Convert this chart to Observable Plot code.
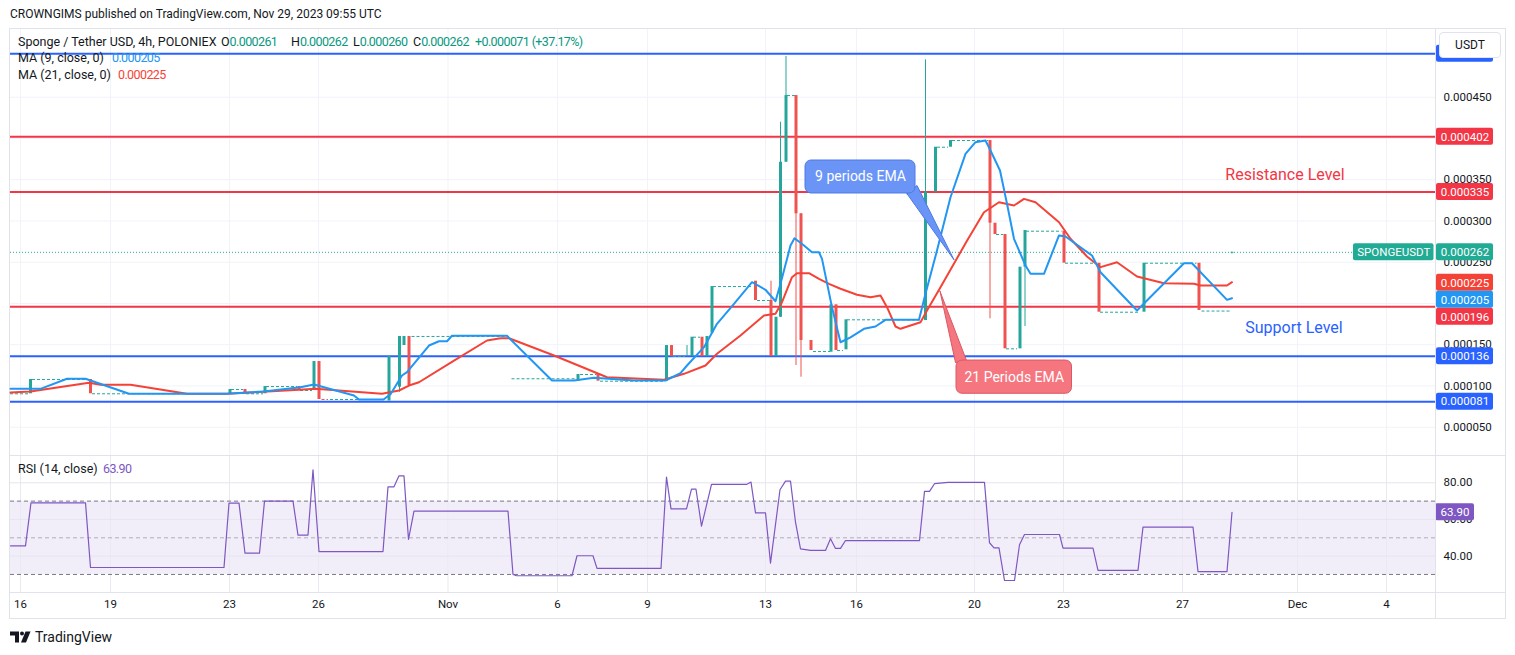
<!DOCTYPE html>
<html>
<head>
<meta charset="utf-8">
<script src="https://cdn.jsdelivr.net/npm/d3@7"></script>
<script src="https://cdn.jsdelivr.net/npm/@observablehq/plot@0.6"></script>
<style>
  html, body { margin: 0; padding: 0; background: #ffffff; }
  body { width: 1515px; height: 655px; position: relative; overflow: hidden;
         font-family: Roboto, "Liberation Sans", Arial, sans-serif; color: #131722; }
  .abs { position: absolute; white-space: nowrap; }
  .leg { font-size: 12.5px; line-height: 16px; }
  .g { color: #089981; }
  .n { letter-spacing: -0.6px; }
</style>
</head>
<body>
<div class="abs" style="left:10px;top:6px;font-size:12px;line-height:16px;">CROWNGIMS published on TradingView.com, Nov 29, 2023 09:55 UTC</div>
<div class="abs" style="left:9px;top:28px;width:1495px;height:589px;border:1px solid #e0e3eb;"></div>
<div id="main" class="abs" style="left:10px;top:29px;"></div>
<div id="rsi" class="abs" style="left:10px;top:456px;"></div>
<div class="abs" style="left:10px;top:455px;width:1495px;height:1px;background:#e0e3eb;"></div>
<div class="abs" style="left:10px;top:592px;width:1495px;height:1px;background:#e0e3eb;"></div>
<div class="abs" style="left:1435px;top:29px;width:1px;height:589px;background:#e0e3eb;"></div>

<div class="abs leg" style="left:18px;top:34px;">Sponge / Tether USD, 4h, POLONIEX</div>
<div class="abs leg" style="left:221px;top:34px;">O<span class="g n">0.000261</span></div>
<div class="abs leg" style="left:291px;top:34px;">H<span class="g n">0.000262</span></div>
<div class="abs leg" style="left:353px;top:34px;">L<span class="g n">0.000260</span></div>
<div class="abs leg" style="left:413px;top:34px;">C<span class="g n">0.000262</span></div>
<div class="abs leg g n" style="left:475px;top:34px;">+0.000071 (+37.17%)</div>
<div class="abs leg" style="left:18px;top:50px;">MA (9, close, 0)</div>
<div class="abs leg n" style="left:112px;top:50px;color:#2196f3">0.000205</div>
<div class="abs leg" style="left:18px;top:67px;">MA (21, close, 0)</div>
<div class="abs leg n" style="left:118px;top:67px;color:#f44336">0.000225</div>
<div class="abs leg" style="left:18px;top:461px;">RSI (14, close)</div>
<div class="abs leg n" style="left:103px;top:461px;color:#7e57c2">63.90</div>

<div class="abs" style="left:1439px;top:32px;width:60px;height:24px;border:1px solid #e0e3eb;border-radius:4px;background:#fff;font-size:12px;line-height:24px;text-align:center;">USDT</div>

<div class="abs" style="left:10px;top:629px;display:flex;align-items:center;">
  <svg width="22" height="14" viewBox="0 0 22 14"><path d="M0 1.5H9V12.5H5V5.5H0Z" fill="#131722"/><circle cx="12" cy="3.5" r="2" fill="#131722"/><path d="M15.5 1.5H20.5L16 12.5H11Z" fill="#131722"/></svg>
  <span style="font-size:14px;margin-left:3px;">TradingView</span>
</div>

<script>
// ---------------- DATA (prices in millionths of USDT, x in 4h-bar slots) ----------------
const tickPos    = [2, 20, 43.8, 61.6, 87.5, 109.4, 127.4, 151, 169.2, 192.8, 210.6, 234.4, 257.4, 275.2];
const tickLabels = ["16", "19", "23", "26", "Nov", "6", "9", "13", "16", "20", "23", "27", "Dec", "4"];
const priceTicks = [50, 100, 150, 200, 250, 300, 350, 400, 450];
const rsiTicks   = [40, 60, 80];

const candleBar   = [4,16,43.9,46.9,50.9,57.7,60.7,61.7,75.7,77.8,78.7,79.7,113.5,117.5,131.2,132.2,135.3,136.3,138.3,139.3,140.3,149,152.1,153.1,154,155.1,157.1,158.1,160.1,164.1,165.1,167.1,183,185,188,195.9,196.9,198.9,201.9,202.9,210.7,217.7,226.7,237.7,244.3];
const candleOpen  = [90.5,107.8,90.5,95.7,90.5,99.3,94.5,129.6,81.7,98.5,149,160,105.8,113.9,105.8,149,135.7,135.7,159.1,135.7,164,227,203.6,135.7,183.3,371.2,452,308.7,155.1,140.9,198.4,143.8,179.3,335,389.4,397.5,297.3,283.6,145,244,287.6,248.8,189.4,248.8,261];
const candleClose = [107.8,90.5,95.7,90.5,99.3,94.5,129.6,83.6,135.7,160,160,100.5,113.9,105.8,149,135.7,135.7,159.1,135.7,160,220.5,203.6,135.7,183.3,371.2,452,308.7,155.1,143,198.4,143,180.2,335,389.4,397.5,297.3,283.6,145,244,288.4,248.8,189.4,248.8,191.5,262];

const wickBar  = [77.8, 135.3, 152.1, 154, 155.1, 157.1, 158.1, 183, 195.9, 202.9, 244.3];
const wickHigh = [160, 149, 227, 419.7, 499.3, 452, 308.7, 495.3, 397.5, 288.4, 262];
const wickLow  = [92.4, 135.7, 135.7, 183.3, 371.2, 124.8, 110.6, 179.3, 181.4, 172, 260];

// runs of flat (no-trade) bars, drawn as dashes
const flatStart = [0,4.4,16.4,44.2,47.2,51.2,58,62.3,64,80.3,100.3,114,118,132.6,136.6,140.6,149.4,155.4,160.6,165.4,167.4,185.4,188.4,197.2,199.2,203.2,211,218,227,238.3];
const flatEnd   = [3.6,15.6,43.4,46.6,50.6,57.4,60.4,63.6,74.6,99.3,113,117.3,131,135,138,148.3,152,157,164,166.6,182,187.6,195.6,198.6,201.4,210.3,217.3,225.7,237.3,244];
const flatPrice = [90.5,107.8,90.5,95.7,90.5,99.3,94.5,83.6,83.6,160,108.7,113.9,105.8,135.7,159.1,220.5,203.6,452,141.7,143,180.2,389.4,397.5,283.6,145,287.6,248.8,189.4,248.8,190.8];
const flatDown  = [7];

const ma9Bar = [0,6,11.3,15,23.7,43.3,50.6,58,60.7,68.7,69.7,74.6,76,78.3,79.3,83.7,85.7,87.3,88.3,99.3,108.3,112.7,116.7,124.7,131,134,135.3,138.7,141.3,144.7,148.3,151,153,154,156,156.8,158.7,160.3,161.7,162.3,164.3,166,168,170.7,173,175,181.7,183,185.3,188,191,193,195,196,197.9,199.3,200.7,203,204,206.7,209.7,211,216.3,218,225.3,226.3,234.7,236.3,243.3,244.3];
const ma9Val = [96.5,96.5,108.7,108.7,90.5,90.5,93.3,98.5,101.8,88.4,83.6,83.6,90,112.7,116.7,149,154.2,154.2,160.8,160.8,106.6,106.6,109.9,106.6,106.6,115.5,124.8,147,175.3,199.6,225.8,216.6,202.7,223.8,270.2,279.1,270.2,262.1,262.1,254.1,195.5,153,159,169.3,172.1,180.2,180.2,211.7,264.2,328.8,381.4,395.5,397.5,385.4,361.2,320.8,278.4,246,236,236,282.4,281.2,258.1,237.9,191.5,197.5,248.8,248.8,204.4,206.4];

const ma21Bar = [0,4,15.7,18,24,35.3,43.3,57.7,61,74.3,77.7,79.7,81.7,88.7,95.3,98,99.7,108.7,119.3,130.7,134.7,139,141.3,146,150.7,153,154.3,156.3,157.3,159.7,161.7,163.7,166,169.3,172,174,175.3,177,178,182,183.3,186,191.3,194.7,197.7,200.7,202.7,205,209.7,212,215.3,218,221.3,225.3,230.7,236.7,238,243.3,244.3];
const ma21Val = [92.1,93.3,103.8,101.4,101.4,90.5,90.5,95.3,96.5,90.5,94.5,100.5,104.5,130.8,155.1,157.9,157.9,136.9,110.6,107.5,114.7,124.8,139,161.2,185.4,187.4,201.5,231.8,236.7,236.7,229.9,223.8,217.8,210.5,207.6,209.7,195.5,172.1,169.3,177.3,191.5,219.7,276,310.6,322.7,318.7,326.8,322.7,298.5,278.4,256.9,244,250,232.7,224.5,223.8,221.8,221.8,225.8];

const rsiBar = [0,3,4.1,15,16,42.7,43.7,45.7,46.9,49.8,50.8,56.5,57.5,59.5,60.5,61.7,74.5,75.5,76.7,77.7,78.7,79.6,80.7,99.5,100.5,101.2,112.3,113.3,116.5,117.3,130.1,131.2,132.1,135.2,136.2,137.1,138.2,140.2,147.2,148.1,149,151,152,153.9,155,156,157,158,160,163,164,165,166,167,181.8,182.8,183.8,184.8,187.5,194.8,195.8,196.7,197.7,198.8,200.8,201.8,202.8,209.8,210.5,216.5,217.5,225.5,226.5,236.5,237.5,243.3,244.3];
const rsiVal = [45.6,45.6,69.1,69.1,33.8,33.8,68.9,68.9,41.6,41.6,70,70,51.5,51.5,87.1,42.5,42.5,77.8,77.8,83.8,83.8,49.1,64.5,64.5,30,29.3,29.3,40.2,40.2,33.3,33.3,83.1,65.8,65.8,76.5,76.5,56.4,79.1,79.1,80.4,63.6,63.6,36.2,76.2,80.9,80.9,58.5,44,43.1,43.1,49.5,44.2,44.2,48.5,48.5,75.3,75.3,79.5,80.2,80.2,47.3,44.5,44.5,26.7,26.7,46.2,51.8,51.8,44.4,44.4,32.2,32.2,55.8,55.8,31.6,31.6,63.9];
const rsiLevels = [70, 50, 30];
const rsiBand = [30, 70];
const rsiLast = 63.9, rsiLastText = "63.90";

// horizontal support / resistance levels drawn on chart
const levelVal   = [502.6, 402, 335, 196, 136, 81];
const levelColor = ["#2962ff", "#f23645", "#f23645", "#f23645", "#2962ff", "#2962ff"];

// price-scale tags (the top one sits under the currency button, no text shows)
const tagVal   = [502.6, 402, 335, 262, 225, 205, 196, 136, 81];
const tagText  = ["", "0.000402", "0.000335", "0.000262", "0.000225", "0.000205", "0.000196", "0.000136", "0.000081"];
const tagColor = ["#2962ff", "#f23645", "#f23645", "#22ab94", "#f44336", "#2196f3", "#f23645", "#2962ff", "#2962ff"];
const lastPrice = 262, symbolName = "SPONGEUSDT";

// annotations
const notes = [
  {text: "Resistance Level", b: 254.9, v: 356.3, color: "#f23645"},
  {text: "Support Level",    b: 256.7, v: 170.8, color: "#2962ff"}
];
const callouts = [
  {text: "9 periods EMA", b1: 159, b2: 181, v1: 333.3, v2: 373.3, fill: "#6a95f7", stroke: "#4c7be3",
   tail: [[179.3, 333.0], [188.7, 252.9], [181.3, 343.0]]},
  {text: "21 Periods EMA", b1: 189.2, b2: 212.3, v1: 90.5, v2: 130.8, fill: "#f5767f", stroke: "#d85a66",
   tail: [[185.9, 214.8], [189.0, 128.4], [191.2, 130.8]]}
];

// ---------------- BUILD ----------------
const FONT = "Roboto, 'Liberation Sans', Arial, sans-serif";
const TEAL = "#26a69a", RED = "#ef5350";
const W = 1495, MR = 70;
const xDomain = [0, 285];
const yDomain = [15.7, 532.1];
const mainH = 426;
const fmt6 = v => (v / 1e6).toFixed(6);

const candles = candleBar.map((b, i) => ({b, o: candleOpen[i], c: candleClose[i], up: candleClose[i] >= candleOpen[i]}));
const wicks = wickBar.map((b, i) => {
  const k = candleBar.indexOf(b);
  return {b, h: wickHigh[i], l: wickLow[i], up: candles[k].up};
});
const flats = flatStart.map((s, i) => ({s, e: flatEnd[i], p: flatPrice[i], down: flatDown.includes(i)}));
const ma9 = ma9Bar.map((b, i) => ({b, v: ma9Val[i]}));
const ma21 = ma21Bar.map((b, i) => ({b, v: ma21Val[i]}));
const rsi = rsiBar.map((b, i) => ({b, v: rsiVal[i]}));
const levels = levelVal.map((v, i) => ({v, color: levelColor[i]}));

// dodge the price tags so they do not overlap (TradingView stacks them)
const ys = d3.scaleLinear(yDomain, [mainH, 0]);
const tagH = 17;
let prev = -Infinity;
const tags = tagVal.map((v, i) => ({v, text: tagText[i], color: tagColor[i]}))
  .sort((a, b) => b.v - a.v)
  .map(t => { let py = Math.max(ys(t.v), prev + tagH); prev = py; return {...t, pos: ys.invert(py), py}; });
// axis numbers fully hidden behind a tag are not drawn
const axisTicks = priceTicks.filter(t => !tags.some(g => Math.abs(g.py - ys(t)) < 4));
const halfTag = (tagH / 2) * (yDomain[1] - yDomain[0]) / mainH;
const pxToBar = (xDomain[1] - xDomain[0]) / (W - MR);
const tagX1 = xDomain[1] + 1 * pxToBar, tagX2 = xDomain[1] + 58 * pxToBar;
const symX1 = xDomain[1] - 82 * pxToBar, symX2 = xDomain[1] - 1.5 * pxToBar;

const tails = callouts.flatMap((c, k) => c.tail.concat([c.tail[0]]).map(([b, v]) => ({b, v, k})));

const main = Plot.plot({
  width: W, height: mainH,
  marginLeft: 0, marginRight: MR, marginTop: 0, marginBottom: 0,
  x: {domain: xDomain, axis: null},
  y: {domain: yDomain, axis: null},
  style: {fontFamily: FONT, color: "#131722", background: "transparent", overflow: "visible"},
  marks: [
    Plot.ruleX(tickPos, {stroke: "#f0f3fa"}),
    Plot.ruleY(priceTicks, {stroke: "#f0f3fa"}),
    Plot.ruleY([lastPrice], {x1: xDomain[0], x2: symX1, stroke: TEAL, strokeDasharray: "1,2"}),
    Plot.ruleY(levels, {y: "v", stroke: "color", strokeWidth: 2}),
    Plot.ruleY(flats, {y: "p", x1: "s", x2: "e", stroke: d => d.down ? RED : TEAL, strokeDasharray: "3,2"}),
    Plot.ruleX(wicks, {x: "b", y1: "l", y2: "h", stroke: d => d.up ? TEAL : RED, strokeWidth: 1}),
    Plot.ruleX(candles, {x: "b", y1: "o", y2: "c", stroke: d => d.up ? TEAL : RED, strokeWidth: 3}),
    Plot.line(ma21, {x: "b", y: "v", stroke: "#f44336", strokeWidth: 2}),
    Plot.line(ma9, {x: "b", y: "v", stroke: "#2196f3", strokeWidth: 2}),
    Plot.line(tails, {x: "b", y: "v", z: "k", fill: d => callouts[d.k].fill, stroke: d => callouts[d.k].stroke, strokeWidth: 1, curve: "linear-closed"}),
    Plot.rect(callouts, {x1: "b1", x2: "b2", y1: "v1", y2: "v2", fill: "fill", stroke: "stroke", strokeWidth: 1, rx: 6}),
    Plot.text(callouts, {x: d => (d.b1 + d.b2) / 2, y: d => (d.v1 + d.v2) / 2, text: "text", fill: "white", fontSize: 14}),
    Plot.text(notes, {x: "b", y: "v", text: "text", fill: "color", fontSize: 16}),
    Plot.axisY(axisTicks, {anchor: "right", label: null, tickSize: 0, tickPadding: 8, tickFormat: fmt6, fontSize: 11.5, fill: "#131722"}),
    Plot.rect([symbolName], {x1: symX1, x2: symX2, y1: lastPrice - halfTag, y2: lastPrice + halfTag, fill: "#22ab94", rx: 2}),
    Plot.text([symbolName], {x: (symX1 + symX2) / 2, y: lastPrice, text: d => d, fill: "white", fontSize: 11.5}),
    Plot.rect(tags, {x1: tagX1, x2: tagX2, y1: d => d.pos - halfTag, y2: d => d.pos + halfTag, fill: "color", rx: 2}),
    Plot.text(tags.filter(t => t.text), {x: (tagX1 + tagX2) / 2, y: "pos", text: "text", fill: "white", fontSize: 11.5})
  ]
});
document.getElementById("main").append(main);

// ---------------- RSI pane ----------------
const rsiDomain = [20.16, 94.35];
const rsiH = 136, axisH = 26;
const tickMap = new Map(tickPos.map((p, i) => [p, tickLabels[i]]));
const rsiHalf = (tagH / 2) * (rsiDomain[1] - rsiDomain[0]) / rsiH;
const rsiTagX2 = xDomain[1] + 39 * pxToBar;

const rsiPlot = Plot.plot({
  width: W, height: rsiH + axisH,
  marginLeft: 0, marginRight: MR, marginTop: 0, marginBottom: axisH,
  x: {domain: xDomain, axis: null},
  y: {domain: rsiDomain, axis: null},
  style: {fontFamily: FONT, color: "#131722", background: "transparent", overflow: "visible"},
  marks: [
    Plot.rect([rsiBand], {x1: xDomain[0], x2: xDomain[1], y1: d => d[0], y2: d => d[1], fill: "#7e57c2", fillOpacity: 0.1}),
    Plot.ruleX(tickPos, {stroke: "#e9eaf0"}),
    Plot.ruleY(rsiTicks, {stroke: "#e6e4ee"}),
    Plot.ruleY(rsiLevels, {stroke: "#787b86", strokeOpacity: d => d === 50 ? 0.55 : 1, strokeDasharray: "4,3"}),
    Plot.line(rsi, {x: "b", y: "v", stroke: "#7e57c2", strokeWidth: 1.2}),
    Plot.axisY(rsiTicks, {anchor: "right", label: null, tickSize: 0, tickPadding: 8, tickFormat: d => d.toFixed(2), fontSize: 11.5, fill: "#131722"}),
    Plot.axisX(tickPos, {anchor: "bottom", label: null, tickSize: 0, tickPadding: 7, tickFormat: d => tickMap.get(d), fontSize: 11.5, fill: "#131722"}),
    Plot.rect([rsiLast], {x1: tagX1 - pxToBar, x2: rsiTagX2, y1: d => d - rsiHalf, y2: d => d + rsiHalf, fill: "#7e57c2", rx: 2}),
    Plot.text([rsiLastText], {x: (tagX1 - pxToBar + rsiTagX2) / 2, y: rsiLast, text: d => d, fill: "white", fontSize: 11.5})
  ]
});
document.getElementById("rsi").append(rsiPlot);
</script>
</body>
</html>
